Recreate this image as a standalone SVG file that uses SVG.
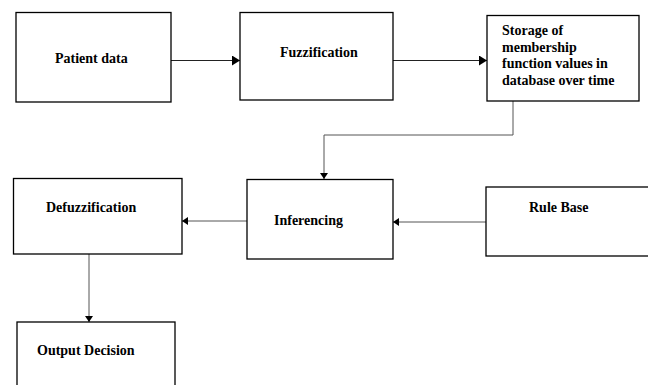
<svg xmlns="http://www.w3.org/2000/svg" width="648" height="385" viewBox="0 0 648 385">
<style>
.box{fill:#fff;stroke:#000;stroke-width:1.3}
.lbl{font-family:"Liberation Serif","Times New Roman",serif;font-weight:bold;font-size:14px;fill:#000}
.con{fill:none;stroke:#222;stroke-width:1.2}
.con2{fill:none;stroke:#555;stroke-width:1}
</style>
<defs>
<marker id="ah" viewBox="0 0 8 10" refX="8" refY="5" markerWidth="8" markerHeight="10" markerUnits="userSpaceOnUse" orient="auto">
<path d="M0,0 L8,5 L0,10 Z" fill="#000"/>
</marker>
<marker id="ahs" viewBox="0 0 6 8" refX="6" refY="4" markerWidth="6" markerHeight="8" markerUnits="userSpaceOnUse" orient="auto">
<path d="M0,0 L6,4 L0,8 Z" fill="#000"/>
</marker>
</defs>
<rect width="648" height="385" fill="#fff"/>
<g id="connectors">
<line class="con" x1="171" y1="60.5" x2="240" y2="60.5" marker-end="url(#ah)"/>
<line class="con" x1="393" y1="60.5" x2="487" y2="60.5" marker-end="url(#ah)"/>
<polyline class="con2" points="513,101 513,135 324,135 324,179" marker-end="url(#ahs)"/>
<line class="con2" x1="247" y1="221" x2="182" y2="221" marker-end="url(#ahs)"/>
<line class="con2" x1="486" y1="222" x2="393" y2="222" marker-end="url(#ahs)"/>
<line class="con2" x1="89" y1="254" x2="89" y2="322" marker-end="url(#ahs)"/>
</g>
<g id="patient-data">
<rect class="box" x="16" y="12.5" width="155" height="89.5"/>
<text class="lbl" x="55" y="63">Patient data</text>
</g>
<g id="fuzzification">
<rect class="box" x="240" y="12.5" width="153" height="87.5"/>
<text class="lbl" x="280" y="57">Fuzzification</text>
</g>
<g id="storage">
<rect class="box" x="487" y="15.5" width="152" height="85.5"/>
<text class="lbl" x="502" y="35">Storage of</text>
<text class="lbl" x="502" y="51.5">membership</text>
<text class="lbl" x="502" y="68">function values in</text>
<text class="lbl" x="502" y="84.5">database over time</text>
</g>
<g id="inferencing">
<rect class="box" x="247" y="179.5" width="146" height="79.5"/>
<text class="lbl" x="274" y="225">Inferencing</text>
</g>
<g id="defuzzification">
<rect class="box" x="13.5" y="178.5" width="168.5" height="75.5"/>
<text class="lbl" x="46" y="212">Defuzzification</text>
</g>
<g id="rule-base">
<rect class="box" x="486" y="187" width="170" height="69"/>
<text class="lbl" x="529" y="212">Rule Base</text>
</g>
<g id="output-decision">
<rect class="box" x="17" y="322" width="158" height="80"/>
<text class="lbl" x="37" y="355">Output Decision</text>
</g>
</svg>
